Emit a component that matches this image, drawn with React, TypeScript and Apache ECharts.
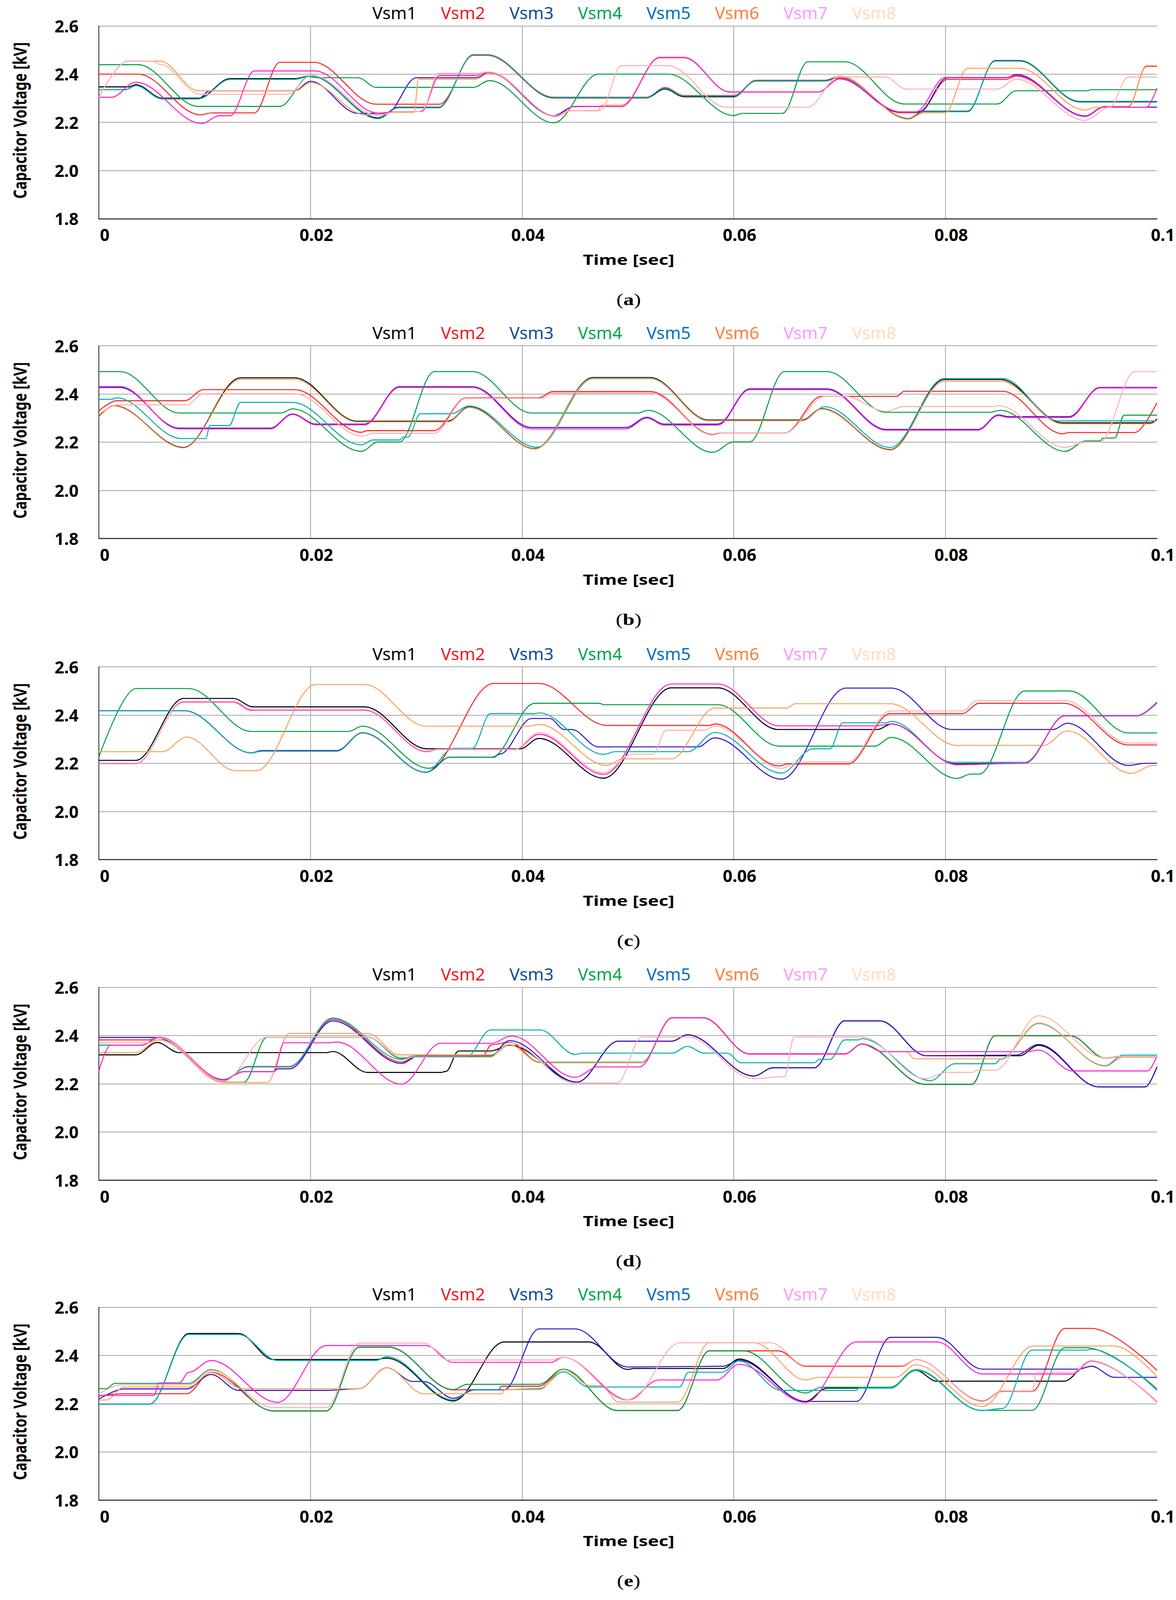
import React, { useEffect, useRef } from "react";
import * as echarts from "echarts";

type P = [number, number][];

const NAMES = ["Vsm1", "Vsm2", "Vsm3", "Vsm4", "Vsm5", "Vsm6", "Vsm7", "Vsm8"];
const LEGEND_COLORS = ["#000000", "#ee1c24", "#0f4c97", "#00a64f", "#0070c0", "#ff7f3a", "#ff99ff", "#ffdcc0"];
const LINE_COLORS = ["#000000", "#ff2020", "#3311cc", "#00a040", "#00b0b0", "#ffa05a", "#ff22cc", "#ffb0b0"];
const PANEL_LABELS = ["a", "b", "c", "d", "e"];
const X_MIN = 0, X_MAX = 0.1, X_STEP = 0.02;
const Y_MIN = 1.8, Y_MAX = 2.6, Y_STEP = 0.2;

// ---------- panel (a) ----------
const A_VSM1: P = [[0,2.347],[0.0028,2.347],[0.0035,2.356],[0.006,2.3],[0.0094,2.3],[0.0124,2.381],[0.0185,2.381],[0.02,2.393],[0.0264,2.218],[0.0283,2.262],[0.0321,2.262],[0.0354,2.479],[0.0367,2.479],[0.043,2.301],[0.0517,2.301],[0.0535,2.338],[0.0553,2.306],[0.06,2.306],[0.0621,2.374],[0.0687,2.374],[0.07,2.39],[0.0765,2.215],[0.078,2.246],[0.0821,2.246],[0.0847,2.455],[0.087,2.455],[0.0927,2.285],[0.1,2.285]];
const A_VSM2: P = [[0,2.4],[0.0037,2.4],[0.0096,2.231],[0.0107,2.239],[0.0147,2.239],[0.0171,2.449],[0.0203,2.449],[0.0262,2.275],[0.0322,2.275],[0.0354,2.478],[0.0367,2.478],[0.043,2.302],[0.0517,2.302],[0.0535,2.344],[0.0553,2.311],[0.06,2.311],[0.0621,2.373],[0.0687,2.373],[0.07,2.385],[0.0757,2.24],[0.0775,2.24],[0.0802,2.378],[0.0857,2.378],[0.0867,2.392],[0.0932,2.226],[0.095,2.265],[0.0973,2.265],[0.099,2.432],[0.1,2.432]];
const A_VSM3: P = [[0,2.335],[0.0025,2.335],[0.0035,2.352],[0.006,2.297],[0.0094,2.297],[0.0105,2.331],[0.0185,2.331],[0.02,2.37],[0.0245,2.237],[0.0272,2.237],[0.03,2.385],[0.0356,2.385],[0.0369,2.405],[0.043,2.228],[0.0449,2.265],[0.0494,2.266],[0.053,2.469],[0.0553,2.469],[0.0596,2.326],[0.068,2.326],[0.07,2.38],[0.0757,2.243],[0.0775,2.243],[0.0802,2.385],[0.0857,2.385],[0.0867,2.398],[0.0932,2.226],[0.095,2.263],[0.1,2.263]];
const A_VSM4: P = [[0,2.439],[0.0037,2.439],[0.0094,2.266],[0.0171,2.266],[0.0199,2.39],[0.0206,2.385],[0.0245,2.385],[0.0262,2.345],[0.0354,2.345],[0.0369,2.373],[0.043,2.198],[0.0472,2.4],[0.0538,2.4],[0.06,2.228],[0.0608,2.237],[0.0646,2.237],[0.067,2.451],[0.0705,2.451],[0.0761,2.276],[0.0849,2.276],[0.0867,2.331],[0.0935,2.331],[0.0937,2.335],[0.1,2.335]];
const A_VSM5: P = [[0,2.335],[0.0025,2.335],[0.0035,2.352],[0.006,2.297],[0.0094,2.297],[0.0124,2.378],[0.0185,2.378],[0.02,2.392],[0.0264,2.215],[0.0283,2.26],[0.0321,2.26],[0.0354,2.481],[0.0367,2.481],[0.043,2.304],[0.0517,2.304],[0.0535,2.341],[0.0553,2.309],[0.06,2.309],[0.0621,2.371],[0.0687,2.371],[0.07,2.389],[0.0765,2.213],[0.078,2.244],[0.0821,2.244],[0.0847,2.457],[0.087,2.457],[0.0927,2.287],[0.1,2.287]];
const A_VSM6: P = [[0,2.304],[0.0027,2.454],[0.0058,2.454],[0.0094,2.331],[0.0186,2.331],[0.02,2.365],[0.0252,2.231],[0.0268,2.231],[0.0275,2.241],[0.0298,2.241],[0.0302,2.379],[0.0356,2.379],[0.0369,2.404],[0.0432,2.225],[0.0446,2.248],[0.0472,2.248],[0.0475,2.271],[0.0494,2.271],[0.053,2.467],[0.0553,2.467],[0.0596,2.326],[0.068,2.326],[0.07,2.392],[0.0765,2.213],[0.078,2.24],[0.08,2.24],[0.0821,2.424],[0.087,2.424],[0.0932,2.251],[0.0942,2.262],[0.0973,2.262],[0.099,2.435],[0.1,2.435]];
const A_VSM7: P = [[0,2.304],[0.0012,2.304],[0.0035,2.366],[0.0097,2.195],[0.0114,2.227],[0.0124,2.227],[0.0147,2.413],[0.0204,2.413],[0.0264,2.238],[0.0283,2.245],[0.0305,2.245],[0.0322,2.394],[0.0356,2.394],[0.0369,2.407],[0.0432,2.225],[0.0449,2.266],[0.0494,2.266],[0.053,2.469],[0.0553,2.469],[0.0596,2.326],[0.068,2.326],[0.07,2.381],[0.0758,2.243],[0.0772,2.243],[0.08,2.386],[0.0857,2.386],[0.0867,2.395],[0.0932,2.224],[0.095,2.263],[0.099,2.263],[0.1,2.342]];
const A_VSM8: P = [[0,2.304],[0.0027,2.454],[0.0051,2.454],[0.0058,2.44],[0.0096,2.316],[0.0178,2.316],[0.0201,2.395],[0.0264,2.228],[0.0282,2.245],[0.0303,2.245],[0.0306,2.254],[0.0321,2.404],[0.0356,2.404],[0.0369,2.409],[0.0432,2.227],[0.0445,2.248],[0.0474,2.25],[0.0494,2.435],[0.0538,2.435],[0.0593,2.263],[0.067,2.263],[0.0699,2.388],[0.0743,2.388],[0.0763,2.338],[0.0849,2.338],[0.0867,2.379],[0.0932,2.208],[0.0955,2.262],[0.0973,2.388],[0.1,2.388]];

// ---------- panel (b) ----------
const B_VSM1: P = [[0,2.306],[0.0014,2.352],[0.008,2.178],[0.0134,2.467],[0.0185,2.467],[0.0244,2.287],[0.033,2.287],[0.035,2.346],[0.0412,2.173],[0.0467,2.468],[0.0521,2.468],[0.0576,2.292],[0.0665,2.292],[0.0683,2.339],[0.0748,2.169],[0.0799,2.46],[0.0852,2.46],[0.0911,2.28],[0.0994,2.28],[0.1,2.296]];
const B_VSM2: P = [[0,2.33],[0.0017,2.372],[0.0081,2.372],[0.0099,2.418],[0.0185,2.418],[0.0248,2.241],[0.0254,2.248],[0.0317,2.248],[0.0347,2.384],[0.0416,2.384],[0.0429,2.41],[0.0521,2.41],[0.058,2.232],[0.0588,2.238],[0.0648,2.238],[0.0683,2.39],[0.0754,2.39],[0.0761,2.411],[0.0854,2.411],[0.0911,2.235],[0.0917,2.24],[0.0979,2.24],[0.1,2.364]];
const B_VSM3: P = [[0,2.427],[0.002,2.427],[0.0076,2.258],[0.0162,2.258],[0.0183,2.317],[0.0205,2.275],[0.0251,2.275],[0.0284,2.43],[0.0353,2.43],[0.0409,2.261],[0.0498,2.261],[0.0518,2.303],[0.0534,2.275],[0.0585,2.275],[0.0615,2.421],[0.0688,2.421],[0.0744,2.253],[0.0831,2.253],[0.085,2.313],[0.086,2.306],[0.0917,2.306],[0.0946,2.427],[0.1,2.427]];
const B_VSM4: P = [[0,2.493],[0.002,2.493],[0.0076,2.321],[0.0172,2.321],[0.0183,2.338],[0.0248,2.162],[0.0264,2.201],[0.0284,2.201],[0.0317,2.493],[0.0353,2.493],[0.0409,2.321],[0.0509,2.321],[0.0519,2.332],[0.058,2.158],[0.06,2.201],[0.0615,2.201],[0.0648,2.493],[0.0688,2.493],[0.0744,2.324],[0.0842,2.324],[0.0852,2.332],[0.0913,2.162],[0.0933,2.205],[0.0946,2.205],[0.0949,2.217],[0.096,2.217],[0.0969,2.312],[0.1,2.312]];
const B_VSM5: P = [[0,2.378],[0.0012,2.378],[0.0017,2.384],[0.0078,2.215],[0.0101,2.215],[0.0105,2.269],[0.0123,2.269],[0.0134,2.365],[0.0183,2.365],[0.0248,2.189],[0.0259,2.209],[0.0284,2.209],[0.0288,2.221],[0.0292,2.221],[0.0304,2.318],[0.0333,2.318],[0.035,2.35],[0.0414,2.179],[0.0467,2.464],[0.0521,2.464],[0.0576,2.289],[0.0665,2.289],[0.0686,2.347],[0.0748,2.178],[0.0799,2.464],[0.0854,2.464],[0.0907,2.288],[0.1,2.288]];
const B_VSM6: P = [[0,2.304],[0.0014,2.35],[0.008,2.176],[0.0134,2.461],[0.0185,2.461],[0.0244,2.284],[0.033,2.284],[0.035,2.344],[0.0412,2.171],[0.0467,2.465],[0.0521,2.465],[0.0576,2.289],[0.0665,2.289],[0.0683,2.337],[0.0748,2.167],[0.0799,2.453],[0.0852,2.453],[0.0911,2.276],[0.0994,2.276],[0.1,2.292]];
const B_VSM7: P = [[0,2.431],[0.002,2.431],[0.0076,2.255],[0.0162,2.255],[0.0183,2.315],[0.0205,2.272],[0.0251,2.272],[0.0284,2.427],[0.0353,2.427],[0.0409,2.255],[0.0498,2.255],[0.0518,2.3],[0.0534,2.271],[0.0585,2.271],[0.0615,2.418],[0.0688,2.418],[0.0744,2.25],[0.0831,2.25],[0.085,2.31],[0.086,2.302],[0.0917,2.302],[0.0946,2.425],[0.1,2.425]];
const B_VSM8: P = [[0,2.315],[0.0017,2.355],[0.0083,2.355],[0.0099,2.401],[0.0185,2.401],[0.0249,2.225],[0.0259,2.237],[0.0317,2.237],[0.0347,2.382],[0.0419,2.382],[0.0429,2.404],[0.0521,2.404],[0.058,2.23],[0.0589,2.238],[0.0648,2.238],[0.0686,2.39],[0.0705,2.39],[0.0744,2.328],[0.0761,2.348],[0.0845,2.348],[0.085,2.352],[0.0913,2.178],[0.0933,2.201],[0.0946,2.201],[0.0979,2.493],[0.1,2.493]];

// ---------- panel (c) ----------
const C_VSM1: P = [[0,2.212],[0.0035,2.212],[0.008,2.469],[0.0127,2.469],[0.0146,2.434],[0.0251,2.434],[0.031,2.26],[0.0398,2.26],[0.0416,2.303],[0.0477,2.138],[0.0541,2.513],[0.0585,2.513],[0.0642,2.34],[0.0736,2.34],[0.0749,2.363],[0.081,2.197],[0.0875,2.2],[0.0913,2.397],[0.0981,2.397],[0.1,2.45]];
const C_VSM2: P = [[0,2.418],[0.0081,2.418],[0.0144,2.243],[0.0154,2.253],[0.0225,2.253],[0.0249,2.327],[0.0309,2.163],[0.0373,2.531],[0.0416,2.531],[0.048,2.357],[0.0577,2.357],[0.0582,2.363],[0.0643,2.189],[0.0651,2.197],[0.0708,2.197],[0.0748,2.406],[0.0816,2.406],[0.0832,2.449],[0.0912,2.449],[0.0973,2.276],[0.1,2.276]];
const C_VSM3: P = [[0,2.418],[0.0081,2.418],[0.0144,2.243],[0.0154,2.252],[0.0225,2.252],[0.0249,2.326],[0.0309,2.162],[0.0332,2.225],[0.0373,2.225],[0.0379,2.238],[0.0409,2.386],[0.0426,2.386],[0.044,2.34],[0.0447,2.34],[0.0472,2.268],[0.0566,2.268],[0.0582,2.305],[0.0645,2.134],[0.0706,2.512],[0.0749,2.512],[0.0806,2.34],[0.0902,2.34],[0.0915,2.366],[0.0973,2.191],[0.0989,2.2],[0.1,2.2]];
const C_VSM4: P = [[0,2.225],[0.0035,2.51],[0.0085,2.51],[0.0144,2.332],[0.0236,2.332],[0.0249,2.354],[0.0312,2.179],[0.0332,2.225],[0.0371,2.225],[0.0412,2.449],[0.0473,2.449],[0.0477,2.443],[0.0585,2.443],[0.0643,2.271],[0.0733,2.271],[0.0749,2.307],[0.0811,2.137],[0.0824,2.155],[0.0832,2.155],[0.0875,2.5],[0.0917,2.5],[0.0973,2.326],[0.1,2.326]];
const C_VSM5: P = [[0,2.418],[0.0081,2.418],[0.0144,2.243],[0.0154,2.25],[0.0225,2.25],[0.0249,2.326],[0.0309,2.162],[0.0335,2.262],[0.0353,2.262],[0.037,2.406],[0.0412,2.406],[0.0416,2.409],[0.0477,2.237],[0.0488,2.248],[0.0557,2.248],[0.0582,2.328],[0.0645,2.159],[0.0675,2.26],[0.0691,2.26],[0.0703,2.368],[0.0744,2.368],[0.0749,2.374],[0.0807,2.204],[0.0875,2.204],[0.0913,2.396],[0.0981,2.396],[0.1,2.45]];
const C_VSM6: P = [[0,2.248],[0.006,2.248],[0.0083,2.309],[0.0129,2.169],[0.0149,2.169],[0.0205,2.527],[0.0251,2.527],[0.0309,2.354],[0.0407,2.354],[0.0416,2.361],[0.048,2.191],[0.0495,2.218],[0.0541,2.218],[0.0582,2.429],[0.065,2.429],[0.0658,2.447],[0.0748,2.447],[0.0811,2.274],[0.0893,2.274],[0.0915,2.334],[0.0976,2.158],[0.0996,2.191],[0.1,2.191]];
const C_VSM7: P = [[0,2.199],[0.0035,2.199],[0.008,2.454],[0.0127,2.454],[0.0144,2.42],[0.0251,2.42],[0.031,2.248],[0.032,2.257],[0.0393,2.257],[0.0416,2.32],[0.0477,2.154],[0.0541,2.529],[0.0585,2.529],[0.0643,2.355],[0.0734,2.355],[0.0749,2.363],[0.0811,2.194],[0.0875,2.2],[0.0913,2.397],[0.0981,2.397],[0.1,2.454]];
const C_VSM8: P = [[0,2.197],[0.0035,2.197],[0.008,2.457],[0.0127,2.457],[0.0146,2.423],[0.0251,2.423],[0.031,2.251],[0.032,2.258],[0.0393,2.258],[0.0416,2.327],[0.0477,2.161],[0.0504,2.238],[0.0524,2.238],[0.0536,2.337],[0.0572,2.337],[0.0582,2.354],[0.0645,2.179],[0.0662,2.205],[0.0708,2.205],[0.0748,2.417],[0.0816,2.417],[0.083,2.46],[0.0913,2.46],[0.0973,2.284],[0.1,2.284]];

// ---------- panel (d) ----------
const D_VSM1: P = [[0,2.32],[0.0035,2.32],[0.0055,2.371],[0.0076,2.329],[0.0215,2.329],[0.0221,2.334],[0.0254,2.247],[0.0323,2.247],[0.0328,2.251],[0.034,2.336],[0.037,2.336],[0.0388,2.36],[0.0452,2.207],[0.0491,2.377],[0.0542,2.377],[0.0556,2.403],[0.0619,2.232],[0.0637,2.266],[0.0676,2.266],[0.0705,2.461],[0.0738,2.461],[0.0782,2.316],[0.087,2.316],[0.0888,2.359],[0.0945,2.187],[0.0989,2.187],[0.1,2.27]];
const D_VSM2: P = [[0,2.382],[0.0047,2.382],[0.0057,2.39],[0.0118,2.217],[0.0141,2.27],[0.018,2.27],[0.0221,2.468],[0.0286,2.29],[0.0301,2.316],[0.0363,2.316],[0.0371,2.362],[0.0388,2.372],[0.0417,2.288],[0.0513,2.288],[0.0542,2.473],[0.0571,2.473],[0.0615,2.323],[0.0705,2.323],[0.0721,2.364],[0.0781,2.197],[0.0825,2.197],[0.0847,2.399],[0.0918,2.399],[0.0951,2.306],[0.0963,2.312],[0.1,2.312]];
const D_VSM3: P = [[0,2.392],[0.0053,2.392],[0.0118,2.217],[0.0137,2.25],[0.0165,2.25],[0.0169,2.262],[0.018,2.262],[0.0221,2.461],[0.0286,2.284],[0.0301,2.313],[0.0355,2.313],[0.037,2.316],[0.0388,2.379],[0.0452,2.207],[0.0491,2.377],[0.0542,2.377],[0.0556,2.403],[0.0619,2.232],[0.0637,2.266],[0.0676,2.266],[0.0705,2.461],[0.0738,2.461],[0.0782,2.316],[0.0867,2.319],[0.0888,2.363],[0.0945,2.187],[0.0989,2.187],[0.1,2.27]];
const D_VSM4: P = [[0,2.36],[0.004,2.36],[0.0057,2.393],[0.0119,2.206],[0.0137,2.206],[0.0159,2.393],[0.0254,2.393],[0.0286,2.305],[0.0297,2.314],[0.037,2.314],[0.0388,2.362],[0.0417,2.289],[0.0513,2.289],[0.0542,2.474],[0.0571,2.474],[0.0615,2.324],[0.0705,2.324],[0.0721,2.365],[0.0781,2.198],[0.0825,2.198],[0.0847,2.4],[0.0918,2.4],[0.0951,2.307],[0.0963,2.313],[0.1,2.313]];
const D_VSM5: P = [[0,2.36],[0.004,2.36],[0.0057,2.39],[0.0118,2.215],[0.0141,2.272],[0.018,2.272],[0.0221,2.473],[0.0286,2.301],[0.0299,2.314],[0.0348,2.314],[0.037,2.423],[0.0417,2.423],[0.045,2.322],[0.0458,2.327],[0.0542,2.327],[0.0556,2.355],[0.0572,2.327],[0.0594,2.327],[0.0607,2.287],[0.0676,2.287],[0.0681,2.301],[0.0691,2.301],[0.0705,2.382],[0.0718,2.382],[0.0721,2.387],[0.0786,2.213],[0.0809,2.283],[0.0847,2.283],[0.0852,2.301],[0.0888,2.45],[0.0951,2.275],[0.0968,2.319],[0.1,2.319]];
const D_VSM6: P = [[0,2.329],[0.0035,2.329],[0.0057,2.382],[0.0118,2.205],[0.0159,2.205],[0.018,2.409],[0.0254,2.409],[0.0284,2.32],[0.037,2.32],[0.0388,2.362],[0.0417,2.287],[0.0513,2.287],[0.0542,2.474],[0.0571,2.474],[0.0615,2.324],[0.0705,2.324],[0.0721,2.365],[0.0741,2.333],[0.0763,2.333],[0.0771,2.303],[0.0852,2.303],[0.0888,2.452],[0.0951,2.273],[0.0968,2.31],[0.1,2.31]];
const D_VSM7: P = [[0,2.253],[0.0011,2.36],[0.004,2.36],[0.0057,2.393],[0.0118,2.215],[0.0137,2.25],[0.0165,2.25],[0.0175,2.37],[0.0218,2.37],[0.0225,2.373],[0.0286,2.198],[0.0323,2.368],[0.0371,2.368],[0.039,2.398],[0.045,2.227],[0.0472,2.27],[0.0511,2.27],[0.0542,2.474],[0.0571,2.474],[0.0615,2.324],[0.0705,2.324],[0.0721,2.365],[0.0741,2.333],[0.0877,2.333],[0.0888,2.34],[0.092,2.253],[0.0991,2.253],[0.1,2.315]];
const D_VSM8: P = [[0,2.37],[0.0047,2.37],[0.0057,2.39],[0.0118,2.21],[0.0159,2.394],[0.0254,2.394],[0.0286,2.31],[0.037,2.31],[0.0388,2.37],[0.045,2.203],[0.049,2.203],[0.0513,2.394],[0.0556,2.394],[0.0619,2.221],[0.0648,2.23],[0.0657,2.394],[0.0721,2.394],[0.0781,2.221],[0.0801,2.247],[0.0825,2.247],[0.083,2.256],[0.0847,2.256],[0.0888,2.482],[0.0951,2.307],[0.0963,2.313],[0.1,2.313]];

// ---------- panel (e) ----------
const E_VSM1: P = [[0,2.198],[0.0048,2.198],[0.0085,2.491],[0.0132,2.491],[0.0165,2.383],[0.0262,2.383],[0.0272,2.389],[0.0335,2.211],[0.0383,2.456],[0.0463,2.456],[0.05,2.342],[0.0506,2.346],[0.059,2.346],[0.0605,2.385],[0.0668,2.209],[0.0688,2.264],[0.0748,2.264],[0.0772,2.338],[0.0792,2.293],[0.0912,2.293],[0.0938,2.378],[0.1,2.205]];
const E_VSM2: P = [[0,2.232],[0.0024,2.241],[0.0083,2.241],[0.0106,2.33],[0.0165,2.17],[0.0215,2.17],[0.0246,2.434],[0.0274,2.434],[0.0335,2.257],[0.0353,2.258],[0.0378,2.258],[0.038,2.272],[0.0416,2.272],[0.0439,2.342],[0.049,2.172],[0.0547,2.172],[0.0577,2.419],[0.0642,2.419],[0.0668,2.355],[0.0759,2.355],[0.0772,2.383],[0.0835,2.211],[0.0854,2.251],[0.0882,2.251],[0.0913,2.512],[0.0938,2.512],[0.1,2.338]];
const E_VSM3: P = [[0,2.218],[0.0024,2.261],[0.0083,2.261],[0.0106,2.321],[0.0132,2.255],[0.0215,2.255],[0.0246,2.262],[0.0272,2.349],[0.0297,2.292],[0.0307,2.292],[0.0335,2.222],[0.0355,2.257],[0.0383,2.257],[0.0416,2.51],[0.045,2.51],[0.05,2.352],[0.059,2.355],[0.0605,2.38],[0.0668,2.209],[0.0716,2.209],[0.0748,2.475],[0.0792,2.475],[0.0835,2.343],[0.0926,2.343],[0.0938,2.355],[0.096,2.309],[0.1,2.309]];
const E_VSM4: P = [[0,2.262],[0.0007,2.262],[0.0015,2.284],[0.0085,2.284],[0.0106,2.341],[0.0165,2.169],[0.0215,2.169],[0.0246,2.435],[0.0274,2.435],[0.0335,2.258],[0.0348,2.28],[0.0416,2.28],[0.0439,2.343],[0.049,2.171],[0.0547,2.171],[0.0577,2.419],[0.0609,2.419],[0.0668,2.244],[0.0683,2.268],[0.0748,2.268],[0.0772,2.341],[0.0834,2.172],[0.0882,2.172],[0.0913,2.432],[0.0933,2.432],[0.1,2.261]];
const E_VSM5: P = [[0,2.198],[0.0048,2.198],[0.0085,2.487],[0.0132,2.487],[0.0169,2.379],[0.0262,2.379],[0.0272,2.395],[0.0335,2.215],[0.0353,2.258],[0.0383,2.258],[0.0416,2.262],[0.0439,2.332],[0.0463,2.269],[0.0549,2.269],[0.0557,2.33],[0.0589,2.33],[0.0605,2.377],[0.0645,2.255],[0.0716,2.255],[0.0718,2.264],[0.0748,2.264],[0.0772,2.338],[0.0834,2.171],[0.0854,2.18],[0.0882,2.422],[0.0933,2.422],[0.0938,2.426],[0.1,2.255]];
const E_VSM6: P = [[0,2.215],[0.0007,2.215],[0.0024,2.269],[0.0085,2.269],[0.0106,2.329],[0.0136,2.262],[0.0246,2.262],[0.0272,2.349],[0.0307,2.241],[0.0381,2.241],[0.0383,2.258],[0.0416,2.258],[0.0439,2.341],[0.0465,2.274],[0.0475,2.274],[0.0491,2.206],[0.0547,2.206],[0.0577,2.453],[0.0619,2.453],[0.0668,2.298],[0.068,2.309],[0.0753,2.309],[0.0772,2.361],[0.0835,2.188],[0.0883,2.439],[0.096,2.439],[0.1,2.312]];
const E_VSM7: P = [[0,2.234],[0.0052,2.234],[0.0057,2.286],[0.0076,2.286],[0.0085,2.33],[0.0106,2.379],[0.0169,2.205],[0.0215,2.441],[0.0309,2.441],[0.0335,2.371],[0.0427,2.371],[0.0439,2.392],[0.05,2.215],[0.0529,2.298],[0.0584,2.298],[0.0605,2.363],[0.0668,2.205],[0.0716,2.456],[0.0792,2.456],[0.0835,2.323],[0.092,2.323],[0.0938,2.376],[0.1,2.207]];
const E_VSM8: P = [[0,2.241],[0.0021,2.278],[0.0085,2.278],[0.0106,2.338],[0.0165,2.184],[0.0215,2.184],[0.0246,2.451],[0.0307,2.451],[0.033,2.381],[0.0427,2.381],[0.0439,2.392],[0.0502,2.215],[0.0549,2.452],[0.0635,2.452],[0.0668,2.358],[0.0759,2.358],[0.0772,2.383],[0.0835,2.209],[0.0854,2.249],[0.0882,2.249],[0.0886,2.33],[0.092,2.33],[0.0938,2.378],[0.1,2.204]];

const PANELS: P[][] = [
  [A_VSM1, A_VSM2, A_VSM3, A_VSM4, A_VSM5, A_VSM6, A_VSM7, A_VSM8],
  [B_VSM1, B_VSM2, B_VSM3, B_VSM4, B_VSM5, B_VSM6, B_VSM7, B_VSM8],
  [C_VSM1, C_VSM2, C_VSM3, C_VSM4, C_VSM5, C_VSM6, C_VSM7, C_VSM8],
  [D_VSM1, D_VSM2, D_VSM3, D_VSM4, D_VSM5, D_VSM6, D_VSM7, D_VSM8],
  [E_VSM1, E_VSM2, E_VSM3, E_VSM4, E_VSM5, E_VSM6, E_VSM7, E_VSM8],
];

// layout in reference pixels (3010 x 5312); vertical values are scaled to the window height
const W = 3010;
const BASE_H = 5312;
const PLOT_TOPS = [86, 1148, 2214, 3278, 4340];
const PLOT_H = 640;
const PLOT_LEFT = 253;
const PLOT_RIGHT = 45;
const FONT = '"Noto Sans", "DejaVu Sans", sans-serif';
const SERIF = '"Liberation Serif", "DejaVu Serif", serif';

function buildOption(ky: number) {
  const fs = (1 + ky) / 2;
  const tick = Math.round(48 * fs);
  const legendFont = Math.round(50 * fs);
  const legendTextW = 129 * fs;
  const tops = PLOT_TOPS.map((t) => t * ky);
  const ph = PLOT_H * ky;
  const grid = tops.map((top) => ({ left: PLOT_LEFT, right: PLOT_RIGHT, top, height: ph }));
  const xAxis = tops.map((_, i) => ({
    type: "value",
    gridIndex: i,
    min: X_MIN,
    max: X_MAX,
    interval: X_STEP,
    axisLine: { show: true, onZero: false, lineStyle: { color: "#222", width: 2.5 } },
    axisTick: { show: false },
    splitLine: { show: true, showMaxLine: false, lineStyle: { color: "#a6a6a6", width: 2 } },
    axisLabel: {
      fontSize: tick,
      fontWeight: "bold",
      fontFamily: FONT,
      color: "#000",
      margin: Math.max(8, 56 * ky - 0.55 * tick),
      padding: [0, 0, 0, 30],
      formatter: (v: number) => (v === 0 ? "0" : String(Number(v.toFixed(2)))),
    },
  }));
  const yAxis = tops.map((_, i) => ({
    type: "value",
    gridIndex: i,
    min: Y_MIN,
    max: Y_MAX,
    interval: Y_STEP,
    axisLine: { show: true, lineStyle: { color: "#222", width: 2 } },
    axisTick: { show: false },
    splitLine: { show: true, lineStyle: { color: "#a6a6a6", width: 2 } },
    axisLabel: {
      fontSize: tick,
      fontWeight: "bold",
      fontFamily: FONT,
      color: "#000",
      margin: 52,
      formatter: (v: number) => v.toFixed(1),
    },
  }));
  const itemH = Math.round(60 * fs);
  const legend = tops.map((top) => ({
    data: NAMES.map((n, j) => ({ name: n, icon: "none", textStyle: { color: LEGEND_COLORS[j] } })),
    left: 943,
    top: top - 51 * ky - itemH / 2,
    orient: "horizontal",
    itemWidth: 0,
    itemHeight: itemH,
    itemGap: Math.round(176 - legendTextW - 5),
    selectedMode: false,
    textStyle: { fontSize: legendFont, fontFamily: FONT },
  }));
  const series: any[] = [];
  PANELS.forEach((panel, p) => {
    panel.forEach((data, j) => {
      series.push({
        type: "line",
        name: NAMES[j],
        xAxisIndex: p,
        yAxisIndex: p,
        data,
        showSymbol: false,
        symbol: "none",
        smooth: 0.35,
        smoothMonotone: "x",
        silent: true,
        z: 2 + j,
        lineStyle: { width: 2.6, color: LINE_COLORS[j] },
        itemStyle: { color: LINE_COLORS[j] },
      });
    });
  });
  const graphic: any[] = [];
  tops.forEach((top, i) => {
    const bottom = top + ph;
    graphic.push({
      type: "text",
      x: 50,
      y: top + ph / 2 - 6 * ky,
      rotation: Math.PI / 2,
      scaleX: ky,
      scaleY: 1,
      style: {
        text: "Capacitor Voltage [kV]",
        font: `bold 47px ${FONT}`,
        fill: "#000",
        align: "center",
        verticalAlign: "middle",
        textAlign: "center",
        textVerticalAlign: "middle",
      },
    });
    graphic.push({
      type: "text",
      x: 1609,
      y: bottom + 135 * ky,
      scaleX: 1,
      scaleY: ky,
      style: {
        text: "Time [sec]",
        font: `bold 47px ${FONT}`,
        fill: "#000",
        align: "center",
        verticalAlign: "middle",
        textAlign: "center",
        textVerticalAlign: "middle",
      },
    });
    graphic.push({
      type: "text",
      x: 1609,
      y: bottom + 268 * ky,
      scaleX: 1,
      scaleY: ky,
      style: {
        text: `{p|(}{b|${PANEL_LABELS[i]}}{p|)}`,
        rich: {
          p: { font: `54px ${SERIF}`, fill: "#000" },
          b: { font: `bold 54px ${SERIF}`, fill: "#000" },
        },
        fill: "#000",
        align: "center",
        verticalAlign: "middle",
        textAlign: "center",
        textVerticalAlign: "middle",
      },
    });
  });
  return {
    animation: false,
    backgroundColor: "#ffffff",
    grid,
    xAxis,
    yAxis,
    legend,
    series,
    graphic,
  };
}

function viewHeight() {
  const h = typeof window !== "undefined" ? window.innerHeight : BASE_H;
  return h > 0 ? Math.min(BASE_H, h) : BASE_H;
}

export default function App() {
  const ref = useRef<HTMLDivElement>(null);
  const H = viewHeight();
  useEffect(() => {
    if (!ref.current) return;
    const chart = echarts.init(ref.current, null, { renderer: "svg", width: W, height: H });
    chart.setOption(buildOption(H / BASE_H) as any);
    return () => chart.dispose();
  }, [H]);
  return (
    <div
      ref={ref}
      style={{ position: "absolute", left: 0, top: 0, width: W, height: H, background: "#fff" }}
    />
  );
}
